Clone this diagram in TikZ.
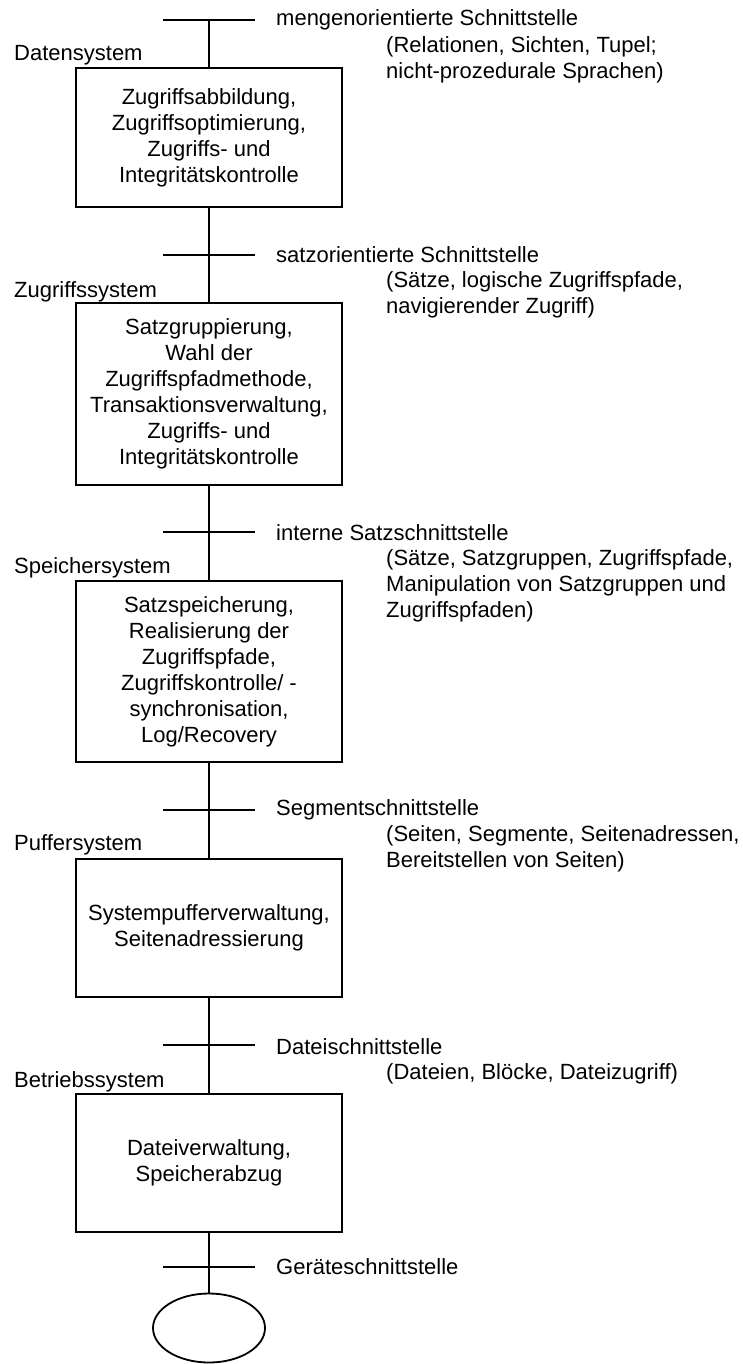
\documentclass[tikz,border=0pt]{standalone}
\usepackage{fontspec}
\setmainfont{Liberation Sans}
\usetikzlibrary{shapes.geometric}
\newcommand\diafont{\fontsize{22pt}{26pt}\selectfont}
\begin{document}
\begin{tikzpicture}[x=1pt,y=-1pt,
  lw/.style={line width=1.8pt},
  box/.style={draw,lw,rectangle,minimum width=266pt,inner sep=0pt,align=center,font=\diafont},
  sysname/.style={anchor=west,inner sep=0pt,font=\diafont},
  iflabel/.style={anchor=west,inner sep=0pt,font=\diafont},
  ifdesc/.style={anchor=north west,inner sep=0pt,align=left,font=\diafont},
  tickline/.style={lw}]
\useasboundingbox (0,0) rectangle (742,1364);

% boxes
\node[box,minimum height=139pt] (b1) at (209,137.5) {Zugriffsabbildung,\\Zugriffsoptimierung,\\Zugriffs- und\\Integritätskontrolle};
\node[box,minimum height=182pt] (b2) at (209,394) {Satzgruppierung,\\Wahl der\\Zugriffspfadmethode,\\Transaktionsverwaltung,\\Zugriffs- und\\Integritätskontrolle};
\node[box,minimum height=181pt] (b3) at (209,671.5) {Satzspeicherung,\\Realisierung der\\Zugriffspfade,\\Zugriffskontrolle/ -\\synchronisation,\\Log/Recovery};
\node[box,minimum height=138pt] (b4) at (209,928) {Systempufferverwaltung,\\Seitenadressierung};
\node[box,minimum height=138pt] (b5) at (209,1163) {Dateiverwaltung,\\Speicherabzug};
\node[draw,lw,ellipse,minimum width=112pt,minimum height=69pt,inner sep=0pt] (disk) at (209,1328) {};

% system names
\node[sysname] (n1) at (14,55) {Datensystem};
\node[sysname] (n2) at (14,292) {Zugriffssystem};
\node[sysname] (n3) at (14,568) {Speichersystem};
\node[sysname] (n4) at (14,845) {Puffersystem};
\node[sysname] (n5) at (14,1082) {Betriebssystem};

% tick coordinates
\coordinate (t1) at (209,20);
\foreach \i/\y in {1/20,2/255,3/532,4/810,5/1045,6/1267}{
  \coordinate (t\i l) at (163,\y);
  \coordinate (t\i r) at (255,\y);
}

% vertical connectors
\draw[lw] (t1) -- (b1.north);
\draw[lw] (b1.south) -- (b2.north);
\draw[lw] (b2.south) -- (b3.north);
\draw[lw] (b3.south) -- (b4.north);
\draw[lw] (b4.south) -- (b5.north);
\draw[lw] (b5.south) -- (disk.north);

% ticks
\foreach \i in {1,...,6}{
  \draw[tickline] (t\i l) -- (t\i r);
}

% interface labels
\node[iflabel] (l1) at (276,20) {mengenorientierte Schnittstelle};
\node[ifdesc] (d1) at (386,36.5) {(Relationen, Sichten, Tupel;\\nicht-prozedurale Sprachen)};
\node[iflabel] (l2) at (276,255) {satzorientierte Schnittstelle};
\node[ifdesc] (d2) at (386,271.5) {(Sätze, logische Zugriffspfade,\\navigierender Zugriff)};
\node[iflabel] (l3) at (276,533) {interne Satzschnittstelle};
\node[ifdesc] (d3) at (386,549.5) {(Sätze, Satzgruppen, Zugriffspfade,\\Manipulation von Satzgruppen und\\Zugriffspfaden)};
\node[iflabel] (l4) at (276,810) {Segmentschnittstelle};
\node[ifdesc] (d4) at (386,825.5) {(Seiten, Segmente, Seitenadressen,\\Bereitstellen von Seiten)};
\node[iflabel] (l5) at (276,1047) {Dateischnittstelle};
\node[ifdesc] (d5) at (386,1063) {(Dateien, Blöcke, Dateizugriff)};
\node[iflabel] (l6) at (276,1267) {Geräteschnittstelle};
\end{tikzpicture}
\end{document}
